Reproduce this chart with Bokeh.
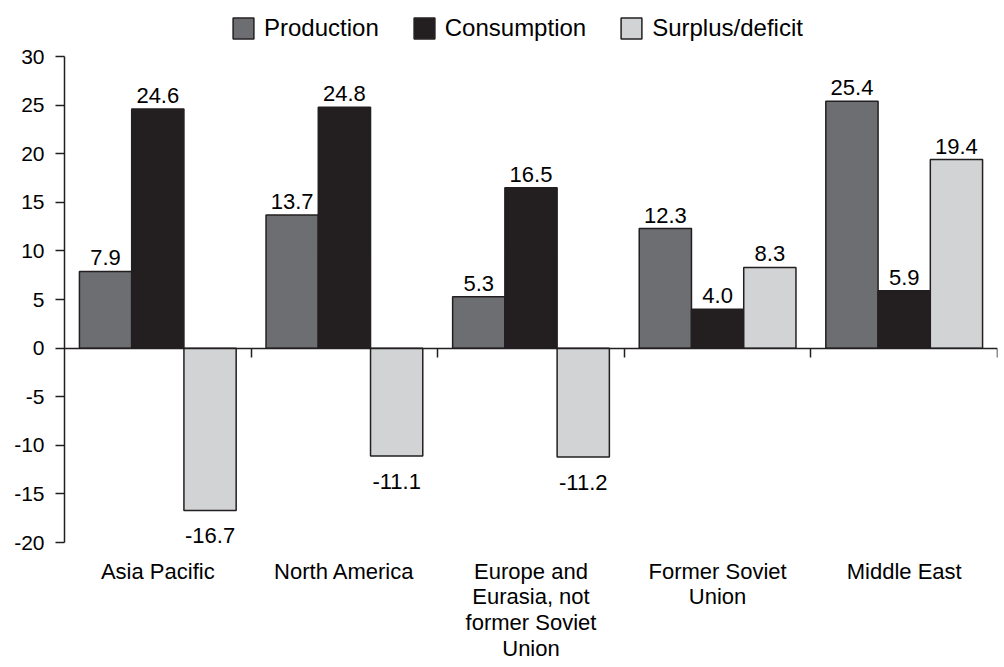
import numpy as np
from bokeh.plotting import figure
from bokeh.models import (ColumnDataSource, Range1d, LinearAxis, FixedTicker,
                          Legend, LegendItem)
from bokeh.core.properties import value, field
from bokeh.embed import file_html
from bokeh.resources import INLINE

categories = ["Asia Pacific", "North America",
              "Europe and\nEurasia, not\nformer Soviet\nUnion",
              "Former Soviet\nUnion", "Middle East"]
production = [7.9, 13.7, 5.3, 12.3, 25.4]
consumption = [24.6, 24.8, 16.5, 4.0, 5.9]
surplus = [-16.7, -11.1, -11.2, 8.3, 19.4]
series_names = ["Production", "Consumption", "Surplus/deficit"]
series_values = [production, consumption, surplus]
colors = ["#6d6e71", "#231f20", "#d1d3d4"]
y_ticks = [-20, -15, -10, -5, 0, 5, 10, 15, 20, 25, 30]

FONT = "Liberation Sans"
INK = "#231f20"

n = len(categories)
centers = np.arange(n) + 0.5
offsets = [-0.28, 0.0, 0.28]
bar_w = 0.28

# y range padded beyond -20..30 to leave room for the legend and the lowest
# value label inside the frame; the axis itself is bounded to -20..30
p = figure(width=1000, height=663, x_range=Range1d(0, n), y_range=Range1d(-20.82, 34.95),
           output_backend="svg", toolbar_location=None,
           x_axis_location=None, y_axis_location="left",
           min_border_left=64, min_border_right=3, min_border_top=8,
           min_border_bottom=100)
p.outline_line_color = None
p.xgrid.visible = False
p.ygrid.visible = False

yax = p.yaxis[0]
yax.bounds = (-20, 30)
yax.ticker = FixedTicker(ticks=y_ticks)
yax.major_label_overrides = {t: str(t) for t in y_ticks}
yax.major_tick_out = 9
yax.major_tick_in = 0
yax.minor_tick_line_color = None
yax.axis_line_color = INK
yax.axis_line_width = 1.5
yax.major_tick_line_color = INK
yax.major_tick_line_width = 1.5
yax.major_label_standoff = 11
yax.major_label_text_font = FONT
yax.major_label_text_font_size = "21px"
yax.major_label_text_color = "black"

# zero line with category-boundary ticks (closest to the frame)
bounds = list(range(1, n + 1))
zero_axis = LinearAxis(fixed_location=0, ticker=FixedTicker(ticks=bounds),
                       major_label_overrides={b: "" for b in bounds})
zero_axis.axis_line_color = INK
zero_axis.axis_line_width = 1.5
zero_axis.major_tick_line_color = INK
zero_axis.major_tick_line_width = 1.5
zero_axis.major_tick_in = 0
zero_axis.major_tick_out = 9
zero_axis.minor_tick_line_color = None
zero_axis.major_label_standoff = 0
zero_axis.major_label_text_font_size = "0px"
p.add_layout(zero_axis, "below")

# category labels
cat_axis = LinearAxis(ticker=FixedTicker(ticks=list(centers)),
                      major_label_overrides={float(c): lab for c, lab in zip(centers, categories)})
cat_axis.axis_line_color = None
cat_axis.major_tick_line_color = None
cat_axis.minor_tick_line_color = None
cat_axis.major_tick_out = 0
cat_axis.major_tick_in = 0
cat_axis.major_label_standoff = 8
cat_axis.major_label_text_font = FONT
cat_axis.major_label_text_font_size = "22px"
cat_axis.major_label_text_color = "black"
cat_axis.major_label_text_line_height = 1.03
p.add_layout(cat_axis, "below")

items = []
for name, vals, off, col in zip(series_names, series_values, offsets, colors):
    src = ColumnDataSource(dict(
        x=centers + off,
        top=vals,
        label=[f"{v:.1f}" for v in vals],
        base=["bottom" if v >= 0 else "top" for v in vals],
        yoff=[-6 if v >= 0 else 18 for v in vals],
    ))
    r = p.vbar(x="x", top="top", bottom=0, width=bar_w, source=src,
               fill_color=col, line_color=INK, line_width=1.5)
    p.text(x="x", y="top", text="label", source=src,
           text_baseline=field("base"), y_offset=field("yoff"),
           text_align="center", text_font=value(FONT),
           text_font_size="22px", text_color="black")
    items.append(LegendItem(label=name, renderers=[r]))

legend = Legend(items=items, orientation="horizontal", location=(166, 508),
                glyph_width=26, glyph_height=26, label_standoff=8, spacing=32,
                border_line_color=None, background_fill_alpha=0,
                label_text_font=FONT, label_text_font_size="24px",
                label_text_color="black",
                padding=0, margin=0)
p.add_layout(legend, "center")

open("out.html", "w").write(file_html(p, INLINE))
